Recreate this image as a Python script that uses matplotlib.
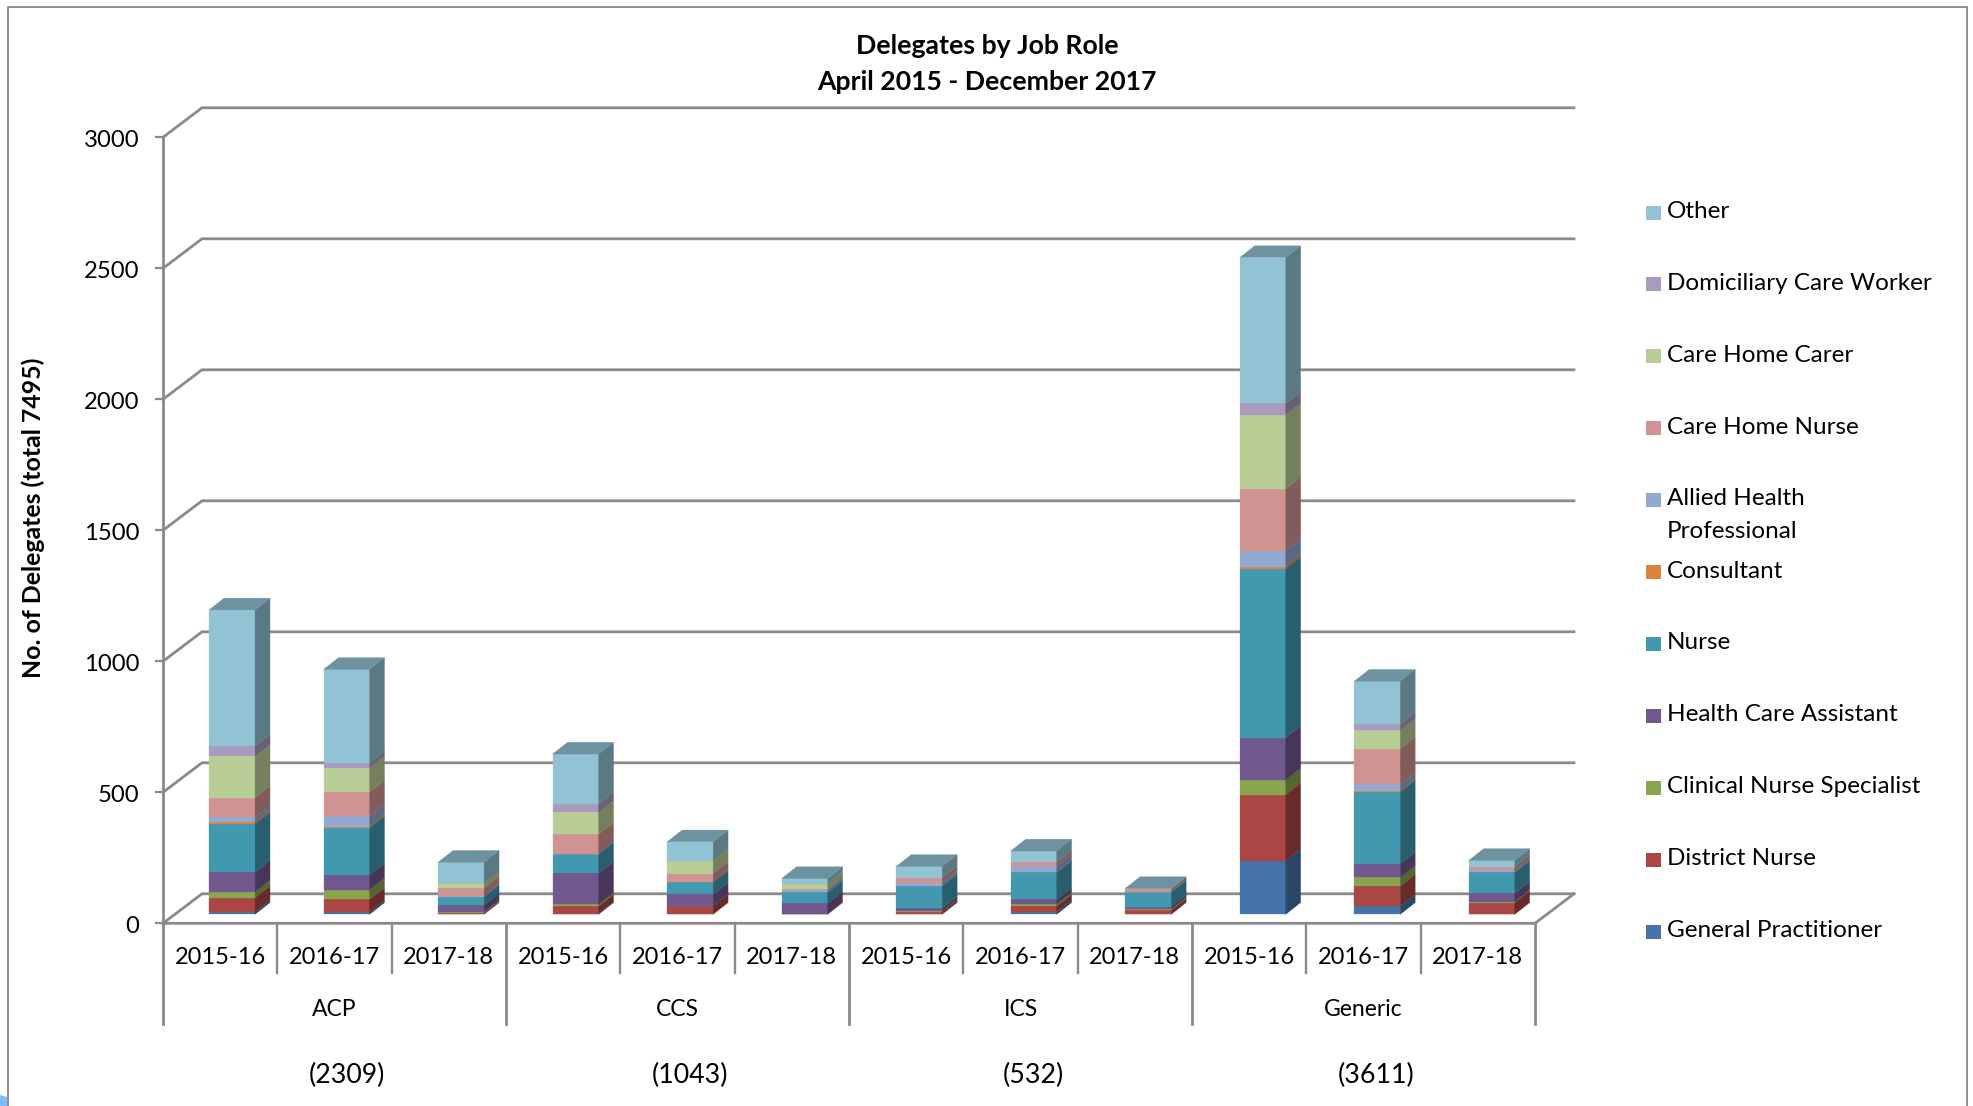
# Stacked pseudo-3D bar chart of course delegates by job role
import numpy as np
import matplotlib
matplotlib.use('Agg')
import matplotlib.pyplot as plt
from matplotlib.patches import Rectangle, Polygon
from matplotlib.transforms import ScaledTranslation

plt.rcParams['font.family'] = ['Lato', 'DejaVu Sans']

W, H = 1973, 1106

YEARS = ['2015-16', '2016-17', '2017-18']
COURSES = ['ACP', 'CCS', 'ICS', 'Generic']
COURSE_TOTALS = ['(2309)', '(1043)', '(532)', '(3611)']
YTICKS = [0, 500, 1000, 1500, 2000, 2500, 3000]

ROLES = ['General Practitioner', 'District Nurse', 'Clinical Nurse Specialist',
         'Health Care Assistant', 'Nurse', 'Consultant',
         'Allied Health\nProfessional', 'Care Home Nurse', 'Care Home Carer',
         'Domiciliary Care Worker', 'Other']
COLOURS = ['#4572A7', '#AA4643', '#89A54E', '#71588F', '#4198AF', '#DB843D',
           '#93A9CF', '#D19392', '#B9CD96', '#A99BBD', '#92C3D4']

# one value per bar: ACP x3, CCS x3, ICS x3, Generic x3
GP = [9, 9, 0, 3, 0, 0, 3, 9, 0, 205, 32, 0]
DISTRICT = [55, 48, 5, 28, 33, 3, 8, 22, 15, 252, 76, 45]
CNS = [22, 37, 4, 8, 0, 0, 2, 8, 5, 56, 33, 4]
HCA = [75, 56, 27, 118, 43, 39, 11, 18, 10, 162, 52, 32]
NURSE = [183, 180, 31, 74, 47, 42, 84, 103, 54, 643, 274, 79]
CONSULTANT = [8, 4, 0, 0, 0, 0, 0, 0, 0, 9, 4, 0]
AHP = [18, 42, 3, 0, 0, 11, 13, 25, 3, 60, 25, 8]
CH_NURSE = [76, 90, 32, 75, 33, 3, 19, 14, 9, 237, 136, 14]
CH_CARER = [157, 94, 18, 84, 48, 19, 0, 0, 0, 283, 71, 0]
DOMICILIARY = [39, 18, 0, 31, 0, 0, 0, 0, 0, 43, 23, 0]
OTHER = [520, 357, 79, 191, 73, 20, 43, 43, 3, 557, 164, 24]
SERIES = [GP, DISTRICT, CNS, HCA, NURSE, CONSULTANT, AHP, CH_NURSE, CH_CARER,
          DOMICILIARY, OTHER]

LINE = '#8A8A8A'
TEXT_SIZE = 17

# depth of the floor/back wall and of each bar, in data units
WALL_DX, WALL_DY = 0.341, 112.6
BAR_DX, BAR_DY = 0.131, 45
BAR_WIDTH = 0.402
BAR_SHIFT = 0.604
BAR_PITCH = 1.0016
BASE = 34

AX_TOP, AX_BOTTOM = 137.3, 923.3
AX_HEIGHT = AX_BOTTOM - AX_TOP


def shade(colour, factor):
    rgb = np.array(matplotlib.colors.to_rgb(colour))
    return tuple(rgb * factor)


def below_axis(y_px):
    return -(y_px - AX_BOTTOM) / AX_HEIGHT


fig = plt.figure(figsize=(W / 100, H / 100), dpi=100)
ax = fig.add_axes([163 / W, 1 - AX_BOTTOM / H, 1372 / W, AX_HEIGHT / H])
ax.set_xlim(0, 12)
ax.set_ylim(0, 3000)
ax.patch.set_visible(False)
for side in ['top', 'right', 'bottom']:
    ax.spines[side].set_visible(False)
ax.spines['left'].set_color(LINE)
ax.spines['left'].set_linewidth(2)

# y axis, labels nudged slightly below their ticks
ax.set_yticks(YTICKS)
ax.tick_params(axis='y', length=6, width=1.6, color=LINE, pad=11,
               labelsize=TEXT_SIZE + 0.2)
ax.set_xticks([])
nudge = ScaledTranslation(0, -1.5 / 100, fig.dpi_scale_trans)
for label in ax.get_yticklabels():
    label.set_transform(label.get_transform() + nudge)

# back wall gridlines and floor edges
for v in YTICKS:
    ax.plot([0, WALL_DX, 12 + WALL_DX], [v, v + WALL_DY, v + WALL_DY],
            color=LINE, lw=2, clip_on=False, zorder=1)
ax.plot([0, 12, 12 + WALL_DX], [0, 0, WALL_DY], color=LINE, lw=2,
        clip_on=False, zorder=1)

# stacked bars: front faces through bar(), side and top faces as polygons
x_pos = np.arange(12) * BAR_PITCH + BAR_SHIFT
bottom = np.full(12, float(BASE))
for values, colour in zip(SERIES, COLOURS):
    values = np.array(values, dtype=float)
    ax.bar(x_pos, values, BAR_WIDTH, bottom=bottom, color=colour,
           edgecolor=colour, linewidth=0.2, zorder=3)
    for x, b, v in zip(x_pos, bottom, values):
        if v == 0:
            continue
        xr = x + BAR_WIDTH / 2
        ax.fill([xr, xr + BAR_DX, xr + BAR_DX, xr],
                [b, b + BAR_DY, b + v + BAR_DY, b + v],
                facecolor=shade(colour, 0.62), edgecolor=shade(colour, 0.62),
                linewidth=0.2, zorder=3, clip_on=False)
    bottom = bottom + values

# top cap of each bar, always in the colour of the last series
for x, t in zip(x_pos, bottom):
    xl, xr = x - BAR_WIDTH / 2, x + BAR_WIDTH / 2
    ax.fill([xl, xl + BAR_DX, xr + BAR_DX, xr],
            [t, t + BAR_DY, t + BAR_DY, t],
            facecolor=shade(COLOURS[-1], 0.75), edgecolor=shade(COLOURS[-1], 0.75),
            linewidth=0.2, zorder=3)

# two-level category axis below the floor
trans = ax.get_xaxis_transform()
for i in range(13):
    low = 1024 if i % 3 == 0 else 973
    ax.plot([i, i], [0, below_axis(low)], transform=trans, color=LINE,
            lw=2 if i % 3 == 0 else 1.7, clip_on=False, zorder=1)
for i in range(12):
    ax.text(i + 0.5, below_axis(957), YEARS[i % 3], transform=trans,
            ha='center', va='center', fontsize=TEXT_SIZE)
for g, (course, total) in enumerate(zip(COURSES, COURSE_TOTALS)):
    ax.text(3 * g + 1.5, below_axis(1009), course, transform=trans,
            ha='center', va='center', fontsize=TEXT_SIZE - 0.5)
    ax.text(3 * g + 1.61, below_axis(1075), total, transform=trans,
            ha='center', va='center', fontsize=19.3)

# titles
fig.text(987 / W, 1 - 46 / H, 'Delegates by Job Role', ha='center', va='center',
         fontsize=19.2, fontweight='bold')
fig.text(987 / W, 1 - 82 / H, 'April 2015 - December 2017', ha='center',
         va='center', fontsize=19.2, fontweight='bold')
fig.text(33 / W, 1 - 518 / H, 'No. of Delegates (total 7495)', rotation=90,
         ha='center', va='center', fontsize=17.9, fontweight='bold')

# legend, top entry first
for n, (role, colour) in enumerate(zip(ROLES[::-1], COLOURS[::-1])):
    y = 212.5 + 71.9 * n
    fig.add_artist(Rectangle((1646 / W, 1 - (y + 7) / H), 15 / W, 14 / H,
                             transform=fig.transFigure, facecolor=colour,
                             edgecolor='none'))
    multi = '\n' in role
    fig.text(1667 / W, 1 - (y - 12 if multi else y - 1) / H, role, ha='left',
             va='top' if multi else 'center', fontsize=17.5, linespacing=1.68)

# outer frame of the chart area
fig.add_artist(plt.Line2D([8 / W, 8 / W, 1967 / W, 1967 / W],
                          [0, 1 - 7 / H, 1 - 7 / H, 0],
                          color='#8F8F8F', lw=1.4, transform=fig.transFigure))
# small blue corner showing at the bottom left
fig.add_artist(Polygon([(0, 0), (0, 11 / H), (7 / W, 9 / H), (7 / W, 0)],
                       transform=fig.transFigure, facecolor='#7FBDFB',
                       edgecolor='none'))

fig.savefig('out.png', dpi=100, facecolor='white')
